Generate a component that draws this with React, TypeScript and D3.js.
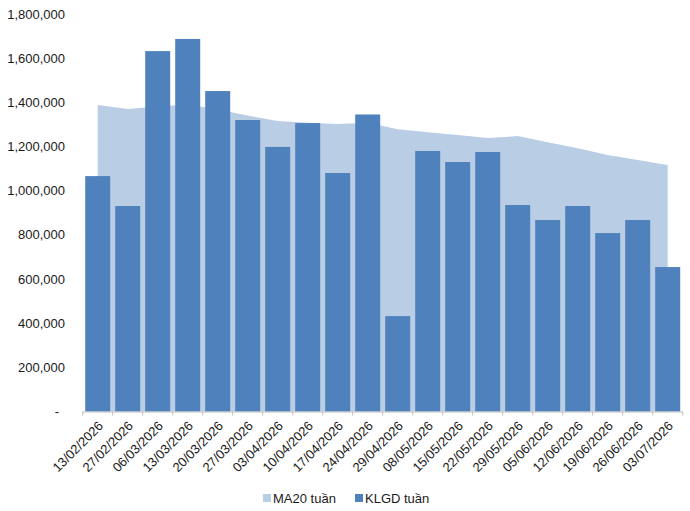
import { useRef, useEffect } from 'react';
import * as d3 from 'd3';

const weeks = [
  '13/02/2026', '27/02/2026', '06/03/2026', '13/03/2026', '20/03/2026',
  '27/03/2026', '03/04/2026', '10/04/2026', '17/04/2026', '24/04/2026',
  '29/04/2026', '08/05/2026', '15/05/2026', '22/05/2026', '29/05/2026',
  '05/06/2026', '12/06/2026', '19/06/2026', '26/06/2026', '03/07/2026',
];

// KLGD tuần (weekly volume)
const volume = [
  1066000, 930500, 1632000, 1687000, 1451000,
  1320000, 1198000, 1306000, 1080000, 1345000,
  432000, 1179500, 1129700, 1175000, 935000,
  867000, 930500, 808000, 867000, 654000,
];

// MA20 tuần
const ma20 = [
  1388000, 1370000, 1381000, 1390000, 1368000,
  1340000, 1315000, 1308000, 1302000, 1308000,
  1278000, 1264000, 1252000, 1238000, 1247000,
  1219000, 1192000, 1161000, 1139000, 1116000,
];

const yTicks = [0, 200000, 400000, 600000, 800000, 1000000, 1200000, 1400000, 1600000, 1800000];

const legendItems = [
  { label: 'MA20 tuần', color: '#b9cde5' },
  { label: 'KLGD tuần', color: '#4f81bd' },
];

const W = 690;
const H = 511;
const FONT = '"Liberation Sans", Arial, sans-serif';

export default function App() {
  const svgRef = useRef<SVGSVGElement>(null);

  useEffect(() => {
    if (!svgRef.current) return;
    const svg = d3.select(svgRef.current);
    svg.selectAll('*').remove();

    const left = 82.7;
    const right = 682.7;
    const top = 14;
    const bottom = 411.5;

    const x = d3
      .scaleBand<string>()
      .domain(weeks)
      .range([left, right])
      .paddingInner(5 / 30)
      .paddingOuter(5 / 60);

    const y = d3.scaleLinear().domain([0, 1800000]).range([bottom, top]);

    const center = (d: string) => (x(d) ?? 0) + x.bandwidth() / 2;

    // MA20 area (behind bars)
    const area = d3
      .area<number>()
      .x((_, i) => center(weeks[i]))
      .y0(y(0))
      .y1((d) => y(d));

    svg
      .append('path')
      .datum(ma20)
      .attr('d', area)
      .attr('fill', '#b9cde5');

    // Bars
    svg
      .append('g')
      .selectAll('rect')
      .data(volume)
      .enter()
      .append('rect')
      .attr('x', (_, i) => x(weeks[i]) ?? 0)
      .attr('y', (d) => y(d))
      .attr('width', x.bandwidth())
      .attr('height', (d) => y(0) - y(d))
      .attr('fill', '#4f81bd');

    // Y tick labels
    const fmt = d3.format(',');
    svg
      .append('g')
      .selectAll('text')
      .data(yTicks)
      .enter()
      .append('text')
      .attr('x', (d) => (d === 0 ? 59 : 65))
      .attr('y', (d) => y(d))
      .attr('dy', '0.35em')
      .attr('text-anchor', 'end')
      .attr('font-family', FONT)
      .attr('font-size', 13)
      .attr('fill', '#1a1a1a')
      .text((d) => (d === 0 ? '-' : fmt(d)));

    // X axis line + tick marks at band boundaries
    const axis = svg.append('g');
    axis
      .append('line')
      .attr('x1', left)
      .attr('x2', right)
      .attr('y1', bottom + 0.5)
      .attr('y2', bottom + 0.5)
      .attr('stroke', '#bfbfbf')
      .attr('stroke-width', 1);

    const step = x.step();
    axis
      .selectAll('.tick')
      .data(d3.range(weeks.length + 1))
      .enter()
      .append('line')
      .attr('x1', (i) => left + i * step)
      .attr('x2', (i) => left + i * step)
      .attr('y1', bottom)
      .attr('y2', bottom + 4)
      .attr('stroke', '#bfbfbf')
      .attr('stroke-width', 1);

    // X labels, rotated
    axis
      .selectAll('.xl')
      .data(weeks)
      .enter()
      .append('text')
      .attr('transform', (d) => `translate(${center(d) + 3},${bottom + 12}) rotate(-45)`)
      .attr('text-anchor', 'end')
      .attr('dy', '0.35em')
      .attr('font-family', FONT)
      .attr('font-size', 13)
      .attr('fill', '#1a1a1a')
      .text((d) => d);

    // Legend
    const legend = svg.append('g');
    const lx = [263, 355];
    legendItems.forEach((item, i) => {
      legend
        .append('rect')
        .attr('x', lx[i])
        .attr('y', 494)
        .attr('width', 8)
        .attr('height', 8)
        .attr('fill', item.color);
      legend
        .append('text')
        .attr('x', lx[i] + 10)
        .attr('y', 498)
        .attr('dy', '0.35em')
        .attr('font-family', FONT)
        .attr('font-size', 13)
        .attr('fill', '#1a1a1a')
        .text(item.label);
    });
  }, []);

  return (
    <svg
      ref={svgRef}
      width={W}
      height={H}
      style={{ position: 'absolute', left: 0, top: 0, background: '#fff' }}
    />
  );
}
